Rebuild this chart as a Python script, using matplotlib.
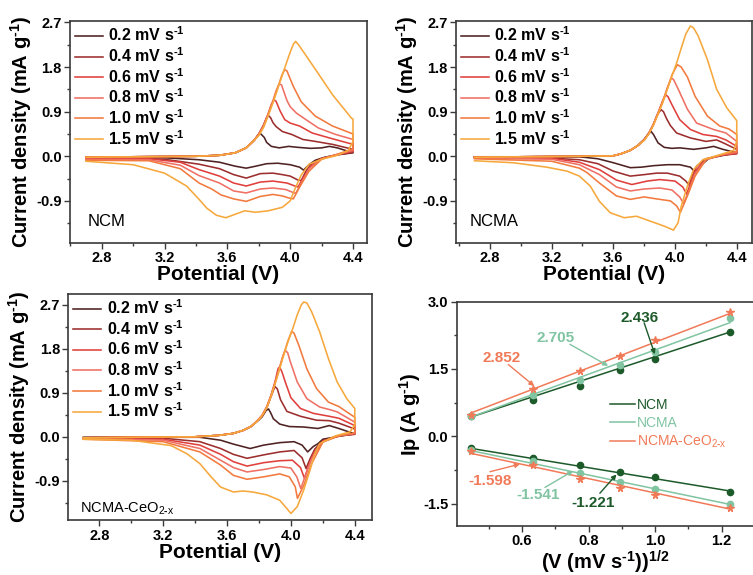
import matplotlib
matplotlib.use('Agg')
import matplotlib.pyplot as plt
from matplotlib.ticker import MultipleLocator

plt.rcParams['font.family'] = 'Liberation Sans'
plt.rcParams['font.weight'] = 'bold'
plt.rcParams['axes.labelweight'] = 'bold'
plt.rcParams['axes.unicode_minus'] = False
plt.rcParams['mathtext.default'] = 'regular'
plt.rcParams['mathtext.fontset'] = 'custom'
plt.rcParams['mathtext.rm'] = 'Liberation Sans:bold'

# scan rates and their colours
RATES = ['0.2', '0.4', '0.6', '0.8', '1.0', '1.5']
RATE_COLORS = ['#4e2222', '#9c2e2e', '#e0403c', '#ef7064', '#f27a3e', '#f6a83c']

# ---- CV curves, (V, mA/g) ----
# shared low part of the anodic sweep, then one loop per scan rate
NCM_FRONT = [(2.70, -0.02), (3.00, -0.01), (3.40, 0.00), (3.55, 0.02), (3.65, 0.07),
             (3.72, 0.17), (3.77, 0.32)]
ncm_02 = [(3.80, 0.44), (3.81, 0.46), (3.835, 0.38), (3.85, 0.28), (3.88, 0.20), (3.93, 0.17),
          (3.99, 0.20), (4.05, 0.18), (4.13, 0.16), (4.20, 0.17), (4.25, 0.20), (4.30, 0.17),
          (4.40, 0.07), (4.30, 0.03), (4.22, -0.02), (4.16, -0.08), (4.12, -0.17), (4.085, -0.28),
          (4.06, -0.22), (4.00, -0.17), (3.92, -0.14), (3.85, -0.15), (3.78, -0.20), (3.72, -0.24),
          (3.65, -0.20), (3.55, -0.12), (3.42, -0.07), (3.20, -0.03), (2.90, -0.02), (2.70, -0.02)]
ncm_04 = [(3.80, 0.45), (3.83, 0.63), (3.85, 0.78), (3.862, 0.82), (3.875, 0.78), (3.89, 0.68),
          (3.91, 0.60), (3.95, 0.50), (4.01, 0.44), (4.08, 0.34), (4.16, 0.30), (4.27, 0.24),
          (4.40, 0.14), (4.40, 0.08), (4.30, 0.03), (4.20, -0.04), (4.14, -0.14), (4.10, -0.30),
          (4.07, -0.49), (4.05, -0.48), (4.00, -0.40), (3.95, -0.37), (3.89, -0.34), (3.81, -0.35),
          (3.72, -0.44), (3.64, -0.37), (3.55, -0.25), (3.42, -0.16), (3.20, -0.06), (2.90, -0.03),
          (2.70, -0.03)]
ncm_06 = [(3.80, 0.45), (3.83, 0.62), (3.86, 0.86), (3.88, 1.05), (3.897, 1.14), (3.91, 1.11),
          (3.935, 0.92), (3.965, 0.74), (4.00, 0.67), (4.06, 0.61), (4.14, 0.47), (4.25, 0.37),
          (4.40, 0.24), (4.40, 0.10), (4.30, 0.03), (4.20, -0.05), (4.13, -0.20), (4.08, -0.45),
          (4.05, -0.62), (4.03, -0.60), (3.98, -0.54), (3.89, -0.50), (3.81, -0.52), (3.72, -0.60),
          (3.64, -0.54), (3.55, -0.40), (3.42, -0.27), (3.30, -0.12), (3.10, -0.05), (2.70, -0.04)]
ncm_08 = [(3.80, 0.44), (3.83, 0.61), (3.86, 0.85), (3.89, 1.12), (3.91, 1.32), (3.93, 1.46),
          (3.945, 1.44), (3.96, 1.30), (3.98, 1.12), (4.00, 1.00), (4.04, 0.87), (4.10, 0.74),
          (4.18, 0.57), (4.29, 0.44), (4.40, 0.34), (4.40, 0.12), (4.30, 0.04), (4.20, -0.05),
          (4.12, -0.25), (4.07, -0.55), (4.035, -0.75), (4.01, -0.72), (3.97, -0.67), (3.89, -0.64),
          (3.81, -0.66), (3.72, -0.74), (3.64, -0.70), (3.55, -0.54), (3.42, -0.39), (3.30, -0.18),
          (3.10, -0.07), (2.70, -0.06)]
ncm_10 = [(3.80, 0.43), (3.83, 0.60), (3.86, 0.84), (3.89, 1.10), (3.92, 1.38), (3.945, 1.62),
          (3.965, 1.75), (3.98, 1.72), (3.995, 1.60), (4.02, 1.41), (4.07, 1.10), (4.16, 0.81),
          (4.27, 0.61), (4.40, 0.45), (4.40, 0.15), (4.30, 0.04), (4.20, -0.06), (4.12, -0.30),
          (4.06, -0.62), (4.02, -0.86), (3.99, -0.84), (3.95, -0.80), (3.89, -0.77), (3.81, -0.81),
          (3.72, -0.91), (3.64, -0.86), (3.56, -0.78), (3.50, -0.66), (3.42, -0.54), (3.30, -0.25),
          (3.10, -0.09), (2.70, -0.08)]
ncm_15 = [(3.80, 0.42), (3.83, 0.58), (3.86, 0.82), (3.89, 1.08), (3.92, 1.36), (3.95, 1.64),
          (3.98, 1.92), (4.00, 2.10), (4.02, 2.26), (4.035, 2.32), (4.06, 2.22), (4.17, 1.71),
          (4.27, 1.24), (4.39, 0.77), (4.40, 0.75), (4.40, 0.30), (4.37, 0.12), (4.30, 0.02),
          (4.20, -0.06), (4.12, -0.16), (4.07, -0.38), (4.03, -0.66), (4.00, -0.90), (3.95, -1.03),
          (3.86, -1.10), (3.78, -1.13), (3.71, -1.10), (3.65, -1.17), (3.59, -1.24), (3.53, -1.19),
          (3.47, -1.05), (3.42, -0.87), (3.34, -0.60), (3.20, -0.34), (3.00, -0.17), (2.70, -0.10)]

NCMA_FRONT = [(2.70, -0.02), (3.00, -0.01), (3.40, 0.00), (3.60, 0.01), (3.65, 0.05),
              (3.71, 0.12), (3.76, 0.22)]
ncma_02 = [(3.80, 0.34), (3.83, 0.46), (3.845, 0.50), (3.86, 0.44), (3.89, 0.27), (3.93, 0.18),
           (3.98, 0.16), (4.03, 0.17), (4.12, 0.14), (4.20, 0.17), (4.25, 0.20), (4.31, 0.14),
           (4.40, 0.07), (4.30, 0.01), (4.22, -0.04), (4.17, -0.18), (4.13, -0.32), (4.10, -0.22),
           (4.03, -0.17), (3.95, -0.17), (3.86, -0.19), (3.78, -0.22), (3.71, -0.23), (3.60, -0.13),
           (3.50, -0.05), (3.38, -0.01), (3.00, -0.01), (2.70, -0.01)]
ncma_04 = [(3.80, 0.34), (3.83, 0.47), (3.86, 0.65), (3.885, 0.84), (3.91, 0.94), (3.925, 0.90),
           (3.945, 0.76), (3.97, 0.62), (4.01, 0.47), (4.10, 0.37), (4.20, 0.30), (4.27, 0.33),
           (4.32, 0.26), (4.40, 0.14), (4.40, 0.05), (4.30, 0.02), (4.20, -0.05), (4.14, -0.20),
           (4.11, -0.40), (4.09, -0.58), (4.07, -0.50), (4.03, -0.40), (3.95, -0.34), (3.88, -0.34),
           (3.80, -0.37), (3.71, -0.40), (3.60, -0.30), (3.50, -0.15), (3.38, -0.07), (3.10, -0.02),
           (2.70, -0.02)]
ncma_06 = [(3.80, 0.33), (3.83, 0.46), (3.86, 0.64), (3.89, 0.88), (3.92, 1.12), (3.94, 1.24),
           (3.955, 1.20), (3.98, 1.04), (4.03, 0.74), (4.10, 0.54), (4.18, 0.44), (4.27, 0.40),
           (4.33, 0.33), (4.40, 0.20), (4.40, 0.06), (4.30, 0.02), (4.20, -0.06), (4.13, -0.30),
           (4.10, -0.55), (4.075, -0.76), (4.05, -0.62), (4.00, -0.50), (3.90, -0.47), (3.82, -0.50),
           (3.72, -0.57), (3.62, -0.48), (3.51, -0.27), (3.38, -0.12), (3.20, -0.04), (2.70, -0.03)]
ncma_08 = [(3.80, 0.33), (3.83, 0.46), (3.86, 0.64), (3.89, 0.87), (3.92, 1.11), (3.95, 1.38),
           (3.975, 1.58), (3.99, 1.55), (4.02, 1.36), (4.08, 0.95), (4.14, 0.67), (4.25, 0.54),
           (4.33, 0.47), (4.40, 0.30), (4.40, 0.08), (4.30, 0.03), (4.20, -0.07), (4.13, -0.35),
           (4.09, -0.70), (4.055, -0.95), (4.03, -0.82), (3.98, -0.68), (3.90, -0.64), (3.80, -0.66),
           (3.71, -0.70), (3.62, -0.62), (3.51, -0.37), (3.38, -0.17), (3.20, -0.06), (2.70, -0.04)]
ncma_10 = [(3.80, 0.33), (3.83, 0.46), (3.86, 0.64), (3.89, 0.86), (3.92, 1.10), (3.95, 1.37),
           (3.98, 1.64), (4.015, 1.85), (4.04, 1.80), (4.08, 1.60), (4.13, 1.21), (4.21, 0.81),
           (4.29, 0.61), (4.35, 0.55), (4.40, 0.44), (4.40, 0.10), (4.30, 0.03), (4.20, -0.07),
           (4.13, -0.40), (4.08, -0.80), (4.035, -1.13), (4.01, -1.00), (3.97, -0.90), (3.88, -0.86),
           (3.80, -0.82), (3.71, -0.87), (3.62, -0.80), (3.51, -0.54), (3.43, -0.33), (3.38, -0.24),
           (3.20, -0.10), (2.70, -0.05)]
ncma_15 = [(3.80, 0.32), (3.83, 0.45), (3.86, 0.63), (3.89, 0.85), (3.92, 1.08), (3.95, 1.35),
           (3.98, 1.62), (4.01, 1.88), (4.04, 2.18), (4.07, 2.47), (4.10, 2.63), (4.12, 2.59),
           (4.15, 2.43), (4.21, 1.95), (4.27, 1.35), (4.335, 0.98), (4.38, 0.80), (4.40, 0.72),
           (4.40, 0.30), (4.38, 0.12), (4.30, 0.04), (4.18, -0.07), (4.12, -0.27), (4.08, -0.60),
           (4.04, -1.01), (4.02, -1.34), (3.99, -1.49), (3.93, -1.41), (3.84, -1.31), (3.75, -1.21),
           (3.67, -1.24), (3.58, -1.14), (3.51, -0.91), (3.45, -0.60), (3.38, -0.40), (3.30, -0.30),
           (3.17, -0.22), (2.95, -0.13), (2.70, -0.09)]

CEO_FRONT = [(2.70, -0.02), (3.00, -0.01), (3.40, 0.00), (3.55, 0.03), (3.64, 0.07),
             (3.70, 0.13), (3.75, 0.21)]
ceo_02 = [(3.79, 0.32), (3.82, 0.41), (3.845, 0.54), (3.86, 0.57), (3.875, 0.48), (3.89, 0.37),
          (3.93, 0.26), (3.99, 0.21), (4.08, 0.20), (4.17, 0.17), (4.24, 0.23), (4.30, 0.17),
          (4.40, 0.06), (4.30, 0.01), (4.20, -0.05), (4.17, -0.14), (4.14, -0.20), (4.105, -0.31),
          (4.07, -0.17), (4.02, -0.10), (3.93, -0.12), (3.83, -0.17), (3.745, -0.24), (3.64, -0.15),
          (3.56, -0.07), (3.43, -0.01), (3.00, -0.01), (2.70, -0.01)]
ceo_04 = [(3.79, 0.32), (3.82, 0.42), (3.85, 0.60), (3.875, 0.82), (3.90, 1.03), (3.915, 0.98),
          (3.935, 0.76), (3.975, 0.52), (4.06, 0.42), (4.16, 0.34), (4.24, 0.33), (4.30, 0.28),
          (4.40, 0.16), (4.40, 0.05), (4.30, 0.02), (4.20, -0.08), (4.15, -0.25), (4.12, -0.45),
          (4.095, -0.65), (4.07, -0.43), (4.02, -0.28), (3.93, -0.31), (3.83, -0.37), (3.725, -0.44),
          (3.64, -0.36), (3.56, -0.24), (3.43, -0.10), (3.20, -0.03), (2.70, -0.02)]
ceo_06 = [(3.79, 0.33), (3.82, 0.44), (3.85, 0.62), (3.875, 0.84), (3.90, 1.12), (3.92, 1.40),
          (3.93, 1.43), (3.945, 1.32), (3.965, 1.12), (4.00, 0.80), (4.06, 0.58), (4.14, 0.48),
          (4.24, 0.42), (4.30, 0.38), (4.40, 0.23), (4.40, 0.06), (4.30, 0.02), (4.20, -0.09),
          (4.14, -0.35), (4.11, -0.60), (4.085, -0.85), (4.06, -0.63), (4.01, -0.48), (3.93, -0.49),
          (3.83, -0.53), (3.725, -0.60), (3.64, -0.51), (3.56, -0.36), (3.43, -0.17), (3.20, -0.05),
          (2.70, -0.03)]
ceo_08 = [(3.79, 0.33), (3.82, 0.44), (3.85, 0.62), (3.875, 0.84), (3.90, 1.10), (3.925, 1.38),
          (3.95, 1.66), (3.965, 1.77), (3.98, 1.72), (3.995, 1.55), (4.04, 1.12), (4.10, 0.78),
          (4.18, 0.61), (4.25, 0.55), (4.29, 0.51), (4.40, 0.30), (4.40, 0.07), (4.30, 0.02),
          (4.20, -0.10), (4.13, -0.45), (4.09, -0.80), (4.062, -1.06), (4.037, -0.82), (4.00, -0.64),
          (3.93, -0.61), (3.83, -0.67), (3.725, -0.72), (3.64, -0.63), (3.56, -0.48), (3.43, -0.24),
          (3.20, -0.07), (2.70, -0.04)]
ceo_10 = [(3.79, 0.33), (3.82, 0.44), (3.85, 0.62), (3.875, 0.84), (3.90, 1.09), (3.925, 1.36),
          (3.95, 1.64), (3.98, 1.95), (4.005, 2.16), (4.02, 2.12), (4.05, 1.87), (4.10, 1.39),
          (4.16, 0.99), (4.235, 0.71), (4.30, 0.62), (4.40, 0.40), (4.40, 0.08), (4.30, 0.02),
          (4.20, -0.11), (4.13, -0.55), (4.08, -1.00), (4.041, -1.26), (4.027, -1.02), (3.99, -0.82),
          (3.93, -0.76), (3.83, -0.82), (3.725, -0.87), (3.64, -0.79), (3.56, -0.58), (3.43, -0.31),
          (3.20, -0.10), (2.70, -0.05)]
ceo_15 = [(3.79, 0.32), (3.82, 0.43), (3.85, 0.60), (3.875, 0.82), (3.90, 1.07), (3.925, 1.34),
          (3.95, 1.62), (3.98, 1.93), (4.01, 2.20), (4.04, 2.50), (4.065, 2.70), (4.08, 2.76),
          (4.10, 2.74), (4.13, 2.56), (4.18, 2.15), (4.235, 1.60), (4.29, 1.12), (4.35, 0.78),
          (4.40, 0.58), (4.40, 0.25), (4.37, 0.10), (4.28, 0.02), (4.18, -0.14), (4.15, -0.34),
          (4.12, -0.68), (4.08, -1.09), (4.04, -1.43), (4.00, -1.57), (3.975, -1.47), (3.93, -1.30),
          (3.85, -1.19), (3.76, -1.13), (3.70, -1.11), (3.64, -1.13), (3.56, -1.03), (3.50, -0.82),
          (3.43, -0.55), (3.35, -0.35), (3.25, -0.18), (3.00, -0.07), (2.70, -0.05)]

# ---- peak current vs sqrt(scan rate) ----
SQRT_RATE = [0.447, 0.632, 0.775, 0.894, 1.000, 1.225]
OX_NCM = [0.45, 0.80, 1.13, 1.47, 1.72, 2.33]
OX_NCMA = [0.45, 0.93, 1.26, 1.60, 1.88, 2.63]
OX_CEO = [0.48, 1.05, 1.45, 1.80, 2.14, 2.78]
RED_NCM = [-0.27, -0.48, -0.64, -0.80, -0.90, -1.25]
RED_NCMA = [-0.30, -0.55, -0.82, -1.02, -1.18, -1.50]
RED_CEO = [-0.32, -0.64, -0.95, -1.15, -1.30, -1.60]
# fitted slopes (as labelled) and intercepts
OX_SLOPES = [2.436, 2.705, 2.852]
OX_INTERCEPTS = [-0.66, -0.78, -0.755]
RED_SLOPES = [-1.221, -1.541, -1.598]
RED_INTERCEPTS = [0.276, 0.369, 0.334]
SAMPLES = ['NCM', 'NCMA', 'NCMA-CeO$_{2\\text{-}x}$']
SAMPLE_COLORS = ['#1d5a2a', '#80c4a2', '#f07a58']
SAMPLE_MARKERS = ['o', 'o', '*']

SUP = '$^{\\text{-1}}$'

W, H = 753, 575
fig = plt.figure(figsize=(W / 100, H / 100), dpi=100)


def px_axes(x0, y0, x1, y1):
    return fig.add_axes([x0 / W, 1 - y1 / H, (x1 - x0) / W, (y1 - y0) / H])


def style_axes(ax):
    for s in ax.spines.values():
        s.set_color('#3a3a3a')
        s.set_linewidth(1.2)
    ax.tick_params(which='both', direction='out', labelsize=10.5, width=1.0, pad=2,
                   color='#3a3a3a')
    ax.tick_params(which='major', length=4)
    ax.tick_params(which='minor', length=2.5)


def cv_points(front, loop):
    start = loop[0][0]
    pts = [p for p in front if p[0] < start] + loop
    return [p[0] for p in pts], [p[1] for p in pts]


def draw_cv(ax, front, loops, xlim, ylim, name, name_pos, name_size=12):
    for loop, rate, color in zip(loops, RATES, RATE_COLORS):
        v, i = cv_points(front, loop)
        ax.plot(v, i, color=color, lw=1.15, label=f'{rate} mV s' + SUP)
    ax.set_xlim(*xlim)
    ax.set_ylim(*ylim)
    ax.xaxis.set_major_locator(MultipleLocator(0.4))
    ax.xaxis.set_minor_locator(MultipleLocator(0.2))
    ax.yaxis.set_major_locator(MultipleLocator(0.9))
    ax.yaxis.set_minor_locator(MultipleLocator(0.45))
    ax.set_xlabel('Potential (V)', fontsize=15, labelpad=0)
    ax.set_ylabel('Current density (mA g' + SUP + ')', fontsize=14.5, labelpad=1.5)
    ax.legend(loc='upper left', frameon=False, fontsize=11.5, handlelength=1.75,
              handletextpad=0.35, labelspacing=0.12, borderaxespad=0.15, borderpad=0.15)
    ax.text(name_pos[0], name_pos[1], name, transform=ax.transAxes, fontsize=name_size,
            fontweight='normal', va='center', ha='left')
    style_axes(ax)


ax1 = px_axes(70, 21, 367, 243)
draw_cv(ax1, NCM_FRONT, [ncm_02, ncm_04, ncm_06, ncm_08, ncm_10, ncm_15],
        (2.598, 4.489), (-1.75, 2.73), 'NCM', (0.061, 0.095))

ax2 = px_axes(456, 21, 751.7, 243)
draw_cv(ax2, NCMA_FRONT, [ncma_02, ncma_04, ncma_06, ncma_08, ncma_10, ncma_15],
        (2.58, 4.497), (-1.75, 2.73), 'NCMA', (0.047, 0.095))

ax3 = px_axes(68.3, 293.7, 371.7, 520.3)
draw_cv(ax3, CEO_FRONT, [ceo_02, ceo_04, ceo_06, ceo_08, ceo_10, ceo_15],
        (2.606, 4.506), (-1.71, 2.93), 'NCMA-CeO$_{2\\text{-}x}$', (0.040, 0.05), 10.5)

# ---- Ip vs v^1/2 ----
ax4 = px_axes(456.7, 301.7, 754, 526)
x_ends = [SQRT_RATE[0], SQRT_RATE[-1]]
for k in range(3):
    c = SAMPLE_COLORS[k]
    ox = [OX_NCM, OX_NCMA, OX_CEO][k]
    red = [RED_NCM, RED_NCMA, RED_CEO][k]
    ms = 5.5 if SAMPLE_MARKERS[k] == '*' else 4.5
    ax4.plot(x_ends, [OX_SLOPES[k] * x + OX_INTERCEPTS[k] for x in x_ends], color=c, lw=1.1,
             label=SAMPLES[k])
    ax4.plot(x_ends, [RED_SLOPES[k] * x + RED_INTERCEPTS[k] for x in x_ends], color=c, lw=1.1)
    ax4.plot(SQRT_RATE, ox, ls='none', marker=SAMPLE_MARKERS[k], ms=ms, color=c)
    ax4.plot(SQRT_RATE, red, ls='none', marker=SAMPLE_MARKERS[k], ms=ms, color=c)

# slope label: text, sample index, text centre, arrow start, arrow tip
notes = [('2.436', 0, (0.954, 2.63), (0.967, 2.53), (0.999, 1.83)),
         ('2.705', 1, (0.701, 2.20), (0.744, 2.05), (0.859, 1.57)),
         ('2.852', 2, (0.539, 1.75), (0.559, 1.60), (0.637, 1.12)),
         ('-1.598', 2, (0.504, -1.00), (0.504, -0.79), (0.594, -0.62)),
         ('-1.541', 1, (0.649, -1.31), (0.669, -1.14), (0.754, -0.77)),
         ('-1.221', 0, (0.814, -1.48), (0.834, -1.27), (0.884, -0.85))]
for txt, k, tpos, start, tip in notes:
    c = SAMPLE_COLORS[k]
    ax4.text(tpos[0], tpos[1], txt, color=c, fontsize=11, ha='center', va='center')
    ax4.annotate('', xy=tip, xytext=start,
                 arrowprops=dict(arrowstyle='-|>', color=c, lw=1.0, mutation_scale=7,
                                 shrinkA=0, shrinkB=0))

ax4.set_xlim(0.404, 1.297)
ax4.set_ylim(-2.0, 3.0)
ax4.xaxis.set_major_locator(MultipleLocator(0.2))
ax4.xaxis.set_minor_locator(MultipleLocator(0.1))
ax4.yaxis.set_major_locator(MultipleLocator(1.5))
ax4.yaxis.set_minor_locator(MultipleLocator(0.75))
ax4.set_xlabel('(V (mV s' + SUP + '))$^{1/2}$', fontsize=14.5, labelpad=0)
ax4.set_ylabel('Ip (A g' + SUP + ')', fontsize=14.5, labelpad=0)
ax4.legend(loc='center left', bbox_to_anchor=(0.515, 0.455), frameon=False,
           handlelength=1.8, handletextpad=0.15, labelspacing=0.3, labelcolor='linecolor',
           borderaxespad=0, borderpad=0, prop={'weight': 'normal', 'size': 10})
style_axes(ax4)

fig.savefig('out.png', dpi=100)
